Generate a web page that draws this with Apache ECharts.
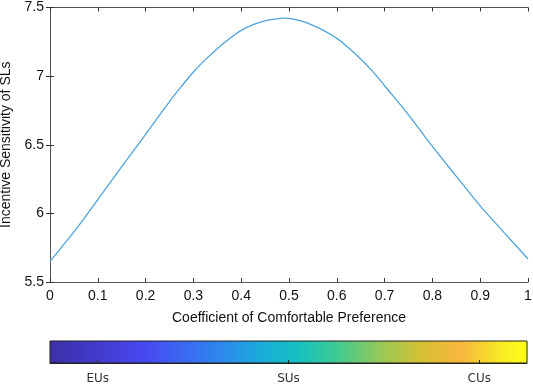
<!DOCTYPE html>
<html>
<head>
<meta charset="utf-8">
<script src="https://cdn.jsdelivr.net/npm/echarts@6/dist/echarts.min.js"></script>
<style>
html,body{margin:0;padding:0;background:#fff;}
#c{width:533px;height:386px;}
</style>
</head>
<body>
<div id="c"></div>
<script>
// Data
const xValues = [0, 0.05, 0.1, 0.15, 0.2, 0.25, 0.275, 0.3, 0.325, 0.35, 0.375, 0.4, 0.425, 0.45, 0.49, 0.5, 0.525, 0.55, 0.575, 0.6, 0.625, 0.65, 0.675, 0.7, 0.75, 0.8, 0.85, 0.9, 0.95, 1];
const sensitivity = [5.650, 5.865, 6.100, 6.340, 6.576, 6.815, 6.925, 7.030, 7.120, 7.200, 7.272, 7.333, 7.375, 7.402, 7.422, 7.420, 7.402, 7.370, 7.328, 7.275, 7.205, 7.125, 7.035, 6.930, 6.718, 6.488, 6.270, 6.055, 5.860, 5.668];
// Colorbar: five equal segments, labelled at the 1st, 3rd and 5th
const colorbarCategories = ['EUs', '', 'SUs', '', 'CUs'];
const colorStops = [
  [0, '#3d2fa6'], [0.2, '#4848f2'], [0.35, '#2f84f0'], [0.45, '#1aaed8'],
  [0.52, '#14c0c0'], [0.6, '#3ecb92'], [0.7, '#9cc852'], [0.78, '#d6c032'],
  [0.86, '#f8b63e'], [0.95, '#f8ee22'], [1, '#ffff14']
];

const chart = echarts.init(document.getElementById('c'), null, {renderer: 'canvas'});
const axisColor = '#555';
const font = 'Liberation Sans, Arial, sans-serif';

const gradient = new echarts.graphic.LinearGradient(0, 0, 1, 0,
  colorStops.map(s => ({offset: s[0], color: s[1]})));

chart.setOption({
  backgroundColor: '#fff',
  animation: false,
  grid: [
    {left: 50, right: 5, top: 7.5, bottom: 104, show: false, containLabel: false, outerBoundsMode: 'none'},
    {left: 50, right: 6, top: 341, height: 22, show: true, backgroundColor: gradient, borderColor: '#222', borderWidth: 1, containLabel: false, outerBoundsMode: 'none'}
  ],
  xAxis: [
    {
      gridIndex: 0, type: 'value', min: 0, max: 1, interval: 0.1, position: 'bottom',
      name: 'Coefficient of Comfortable Preference', nameLocation: 'middle', nameGap: 29,
      nameTextStyle: {fontFamily: font, fontSize: 14, color: '#111'},
      axisLine: {show: true, lineStyle: {color: axisColor, width: 1}},
      axisTick: {show: true, inside: true, length: 4, lineStyle: {color: '#333'}},
      axisLabel: {fontFamily: font, fontSize: 14, color: '#111', margin: 7},
      splitLine: {show: false}
    },
    {
      gridIndex: 0, type: 'value', min: 0, max: 1, interval: 0.1, position: 'top',
      axisLine: {show: true, lineStyle: {color: axisColor, width: 1}},
      axisTick: {show: true, inside: true, length: 4, lineStyle: {color: '#333'}},
      axisLabel: {show: false}, splitLine: {show: false}
    },
    {
      gridIndex: 1, type: 'category', data: colorbarCategories, boundaryGap: true, position: 'bottom',
      axisLine: {show: true, lineStyle: {color: '#222', width: 1}},
      axisTick: {show: true, inside: true, length: 3, alignWithLabel: true, interval: 1, lineStyle: {color: '#222', width: 1}},
      axisLabel: {
        show: true, interval: 0, margin: 10,
        fontFamily: 'DejaVu Sans, Verdana, sans-serif', fontSize: 12, color: '#333'
      },
      splitLine: {show: false}
    }
  ],
  yAxis: [
    {
      gridIndex: 0, type: 'value', min: 5.5, max: 7.5, interval: 0.5, position: 'left',
      name: 'Incentive Sensitivity of SLs', nameLocation: 'middle', nameGap: 33,
      nameTextStyle: {fontFamily: font, fontSize: 14, color: '#111'},
      axisLine: {show: true, lineStyle: {color: axisColor, width: 1}},
      axisTick: {show: true, inside: true, length: 4, lineStyle: {color: '#333'}},
      axisLabel: {fontFamily: font, fontSize: 14, color: '#111', margin: 6},
      splitLine: {show: false}
    },
    {
      gridIndex: 0, type: 'value', min: 5.5, max: 7.5, interval: 0.5, position: 'right',
      axisLine: {show: true, lineStyle: {color: axisColor, width: 1}},
      axisTick: {show: true, inside: true, length: 4, lineStyle: {color: '#333'}},
      axisLabel: {show: false}, splitLine: {show: false}
    },
    {
      gridIndex: 1, type: 'value', min: 0, max: 1, show: false
    }
  ],
  series: [
    {
      type: 'line', xAxisIndex: 0, yAxisIndex: 0,
      data: xValues.map((x, i) => [x, sensitivity[i]]),
      smooth: 0.3, showSymbol: false,
      lineStyle: {color: '#4fa3dc', width: 1.3}
    }
  ]
});
</script>
</body>
</html>
